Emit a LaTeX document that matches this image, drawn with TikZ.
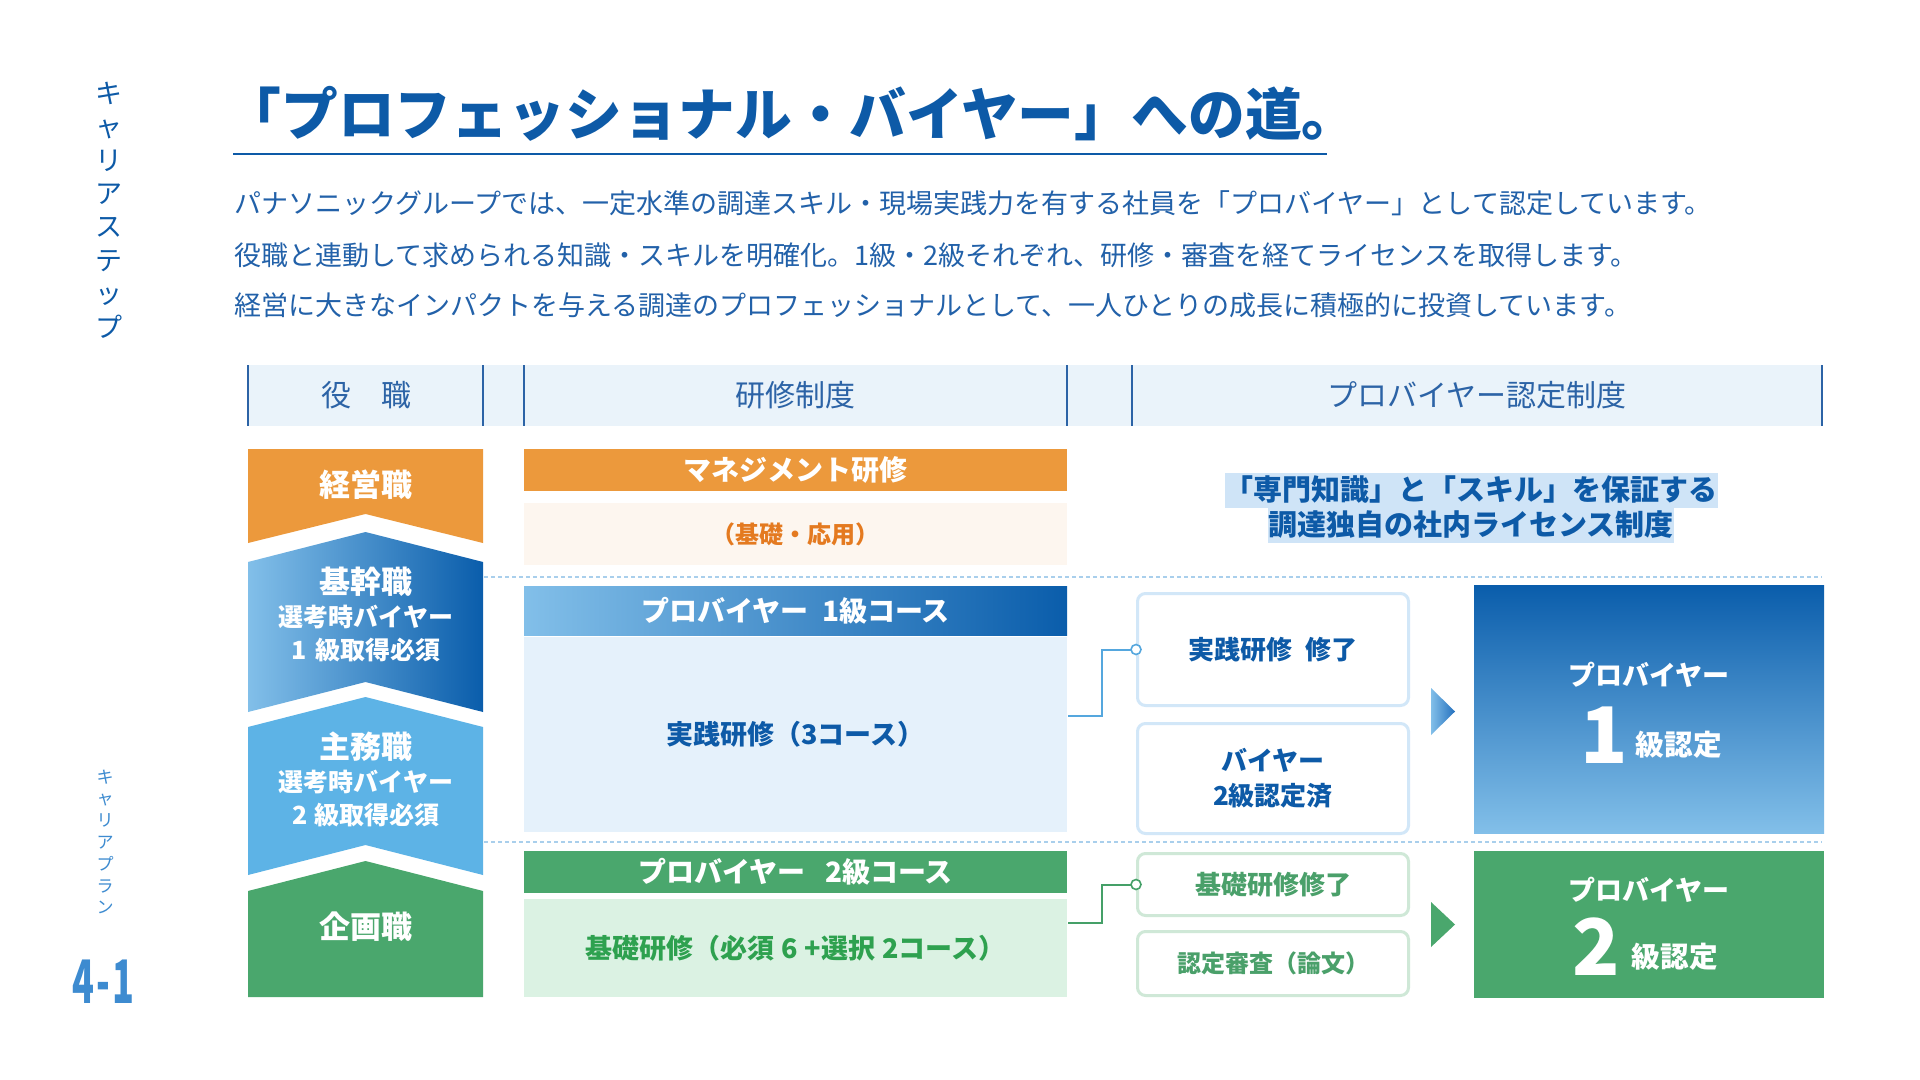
\documentclass[tikz,border=0pt]{standalone}
\usepackage{fontspec}
\setmainfont{Noto Sans CJK JP}
\usetikzlibrary{calc}
\definecolor{navy}{HTML}{0D5AA7}
\definecolor{bodyblue}{HTML}{2261A9}
\definecolor{hdrfill}{HTML}{EAF3FA}
\definecolor{hdrline}{HTML}{2C63A6}
\definecolor{orng}{HTML}{EC993C}
\definecolor{orngtxt}{HTML}{E47A20}
\definecolor{peach}{HTML}{FDF6EF}
\definecolor{dkblue}{HTML}{0A5DAB}
\definecolor{ltblue}{HTML}{82BFE9}
\definecolor{arrowdk}{HTML}{2470BE}
\definecolor{skyblue}{HTML}{5DB3E6}
\definecolor{pale}{HTML}{E5F1FB}
\definecolor{grn}{HTML}{4AA76D}
\definecolor{palegrn}{HTML}{DBF2E3}
\definecolor{grntxt}{HTML}{2EA14F}
\definecolor{boxgrntxt}{HTML}{4AA06A}
\definecolor{boxblue}{HTML}{D2E7F8}
\definecolor{boxgrn}{HTML}{CFE8D7}
\definecolor{hilite}{HTML}{CFE4F7}
\definecolor{dots}{HTML}{A9CFEC}
\definecolor{linkblue}{HTML}{55A7DE}
\definecolor{linkgrn}{HTML}{45A068}
\definecolor{sidetxt}{HTML}{3D8BD0}

\begin{document}
\begin{tikzpicture}[x=0.5pt,y=-0.5pt,
head/.style={text=hdrline, font=\fontsize{15}{18}\selectfont},
role/.style={text=white, align=center, font=\bfseries\fontsize{12.5}{16.5}\selectfont},
bar/.style={minimum width=271.5pt, inner sep=0pt, text=white, font=\bfseries\fontsize{14}{16}\selectfont},
pane/.style={minimum width=271.5pt, inner sep=0pt, font=\bfseries\fontsize{13.5}{16}\selectfont},
check/.style={draw, rounded corners=4pt, line width=1.5pt, fill=white, minimum width=135.5pt, inner sep=0pt, align=center, font=\bfseries\fontsize{13}{17.5}\selectfont},
cert/.style={minimum width=175pt, inner sep=0pt},
certtext/.style={text=white, font=\bfseries\fontsize{13.5}{16}\selectfont},
note/.style={fill=hilite, inner xsep=0pt, inner ysep=0pt, text=navy, font=\bfseries\fontsize{14.5}{17}\selectfont},
divider/.style={dots, line width=0.75pt, dash pattern=on 2pt off 1.5pt},
link/.style={line width=1pt},
dot/.style={circle, draw, fill=white, inner sep=0pt, minimum size=5pt, line width=0.8pt},
]
\useasboundingbox (0,0) rectangle (1920,1080);
\fill[white] (0,0) rectangle (1920,1080);

\node[text=navy, align=center, font=\fontsize{13.5}{16.7}\selectfont] (side1) at (109,210) {キ\\ャ\\リ\\ア\\ス\\テ\\ッ\\プ};
\node[text=sidetxt, align=center, font=\fontsize{8.5}{10.9}\selectfont] (side2) at (105,842) {キ\\ャ\\リ\\ア\\プ\\ラ\\ン};
\node[text=sidetxt, font=\bfseries\fontsize{30}{30}\selectfont] (num) at (103,982) {\scalebox{0.6}[1]{4\hspace{0.06em}-\hspace{0.06em}1}};

\node[anchor=west, inner sep=0pt, text=navy, font=\bfseries\fontsize{28.4}{32}\selectfont] (title) at (224,114) {「プロフェッショナル・バイヤー」への道。};
\draw[navy, line width=1pt] (233,154) -- (1327,154);

\node[anchor=west, inner sep=0pt, text=bodyblue, font=\fontsize{13.5}{16}\selectfont] (t1) at (234,203) {パナソニックグループでは、一定水準の調達スキル・現場実践力を有する社員を「プロバイヤー」として認定しています。};
\node[anchor=west, inner sep=0pt, text=bodyblue, font=\fontsize{13.5}{16}\selectfont] (t2) at (234,255) {役職と連動して求められる知識・スキルを明確化。1級・2級それぞれ、研修・審査を経てライセンスを取得します。};
\node[anchor=west, inner sep=0pt, text=bodyblue, font=\fontsize{13.5}{16}\selectfont] (t3) at (234,305) {経営に大きなインパクトを与える調達のプロフェッショナルとして、一人ひとりの成長に積極的に投資しています。};

\fill[hdrfill] (248,365) rectangle (1822,426);
\foreach \x in {248,483,524,1067,1132,1822}
  \draw[hdrline, line width=0.75pt] (\x,365) -- (\x,426);
\node[head] (h1) at (366,395) {役\hspace{1em}職};
\node[head] (h2) at (795.5,395) {研修制度};
\node[head] (h3) at (1477,395) {プロバイヤー認定制度};

\fill[orng] (248,449) -- (483,449) -- (483,543) -- (365.5,514) -- (248,543) -- cycle;
\shade[left color=ltblue, right color=dkblue] (248,562) -- (365.5,532) -- (483,562) -- (483,712) -- (365.5,682) -- (248,712) -- cycle;
\fill[skyblue] (248,727) -- (365.5,697) -- (483,727) -- (483,875) -- (365.5,845) -- (248,875) -- cycle;
\fill[grn] (248,891) -- (365.5,861) -- (483,891) -- (483,997) -- (248,997) -- cycle;
\node[role, font=\bfseries\fontsize{15.5}{18}\selectfont] (r1) at (366,485) {経営職};
\node[role] (r2) at (366,614) {{\fontsize{15.5}{16.5}\selectfont 基幹職}\\選考時バイヤー\\1\hspace{0.35em}級取得必須\hspace{2.1em}};
\node[role] (r3) at (366,779) {{\fontsize{15.5}{16.5}\selectfont 主務職}\\選考時バイヤー\\2\hspace{0.3em}級取得必須};
\node[role, font=\bfseries\fontsize{15.5}{18}\selectfont] (r4) at (366,927) {企画職};

\draw[divider] (484,577) -- (1822,577);
\draw[divider] (484,842) -- (1822,842);

\node[bar, fill=orng, minimum height=21pt] (m1) at (795.5,470) {マネジメント研修};
\node[pane, fill=peach, text=orngtxt, minimum height=31pt, font=\bfseries\fontsize{12}{14}\selectfont] (m2) at (795.5,534) {（基礎・応用）};
\node[bar, left color=ltblue, right color=dkblue, minimum height=24.5pt] (p1) at (795.5,610.5) {プロバイヤー\hspace{0.5em}1級コース};
\node[pane, fill=pale, text=navy, minimum height=97.5pt] (p2) at (795.5,734.5) {実践研修（3コース）};
\node[bar, fill=grn, minimum height=21pt] (g1) at (795.5,872) {プロバイヤー\hspace{0.7em}2級コース};
\node[pane, fill=palegrn, text=grntxt, minimum height=49pt] (g2) at (795.5,948) {基礎研修（必須\hspace{0.25em}6\hspace{0.25em}+選択\hspace{0.25em}2コース）};

\node[note, minimum height=17.5pt] (n1) at (1471,490) {「専門知識」と「スキル」を保証する};
\node[note, minimum height=18pt] (n2) at (1471,525) {調達独自の社内ライセンス制度};

\node[check, draw=boxblue, text=navy, minimum height=56pt] (b1) at (1273,649.5) {実践研修\hspace{0.5em}修了};
\node[check, draw=boxblue, text=navy, minimum height=55pt] (b2) at (1273,778.5) {バイヤー\\2級認定済};
\node[check, draw=boxgrn, text=boxgrntxt, minimum height=31pt] (b3) at (1273,884.5) {基礎研修修了};
\node[check, draw=boxgrn, text=boxgrntxt, minimum height=32pt, font=\bfseries\fontsize{12}{14}\selectfont] (b4) at (1273,963.5) {認定審査（論文）};

\coordinate (o1) at (1068,716);
\coordinate (o2) at (1068,923);
\draw[link, linkblue] (o1) -- ++(34,0) |- (b1.west);
\draw[link, linkgrn] (o2) -- ++(34,0) |- (b3.west);
\node[dot, draw=linkblue] (d1) at (b1.west) {};
\node[dot, draw=linkgrn] (d2) at (b3.west) {};

\shade[left color=ltblue, right color=arrowdk] (1431,688) -- (1455,711.5) -- (1431,735) -- cycle;
\fill[grn] (1431,902) -- (1455,924.5) -- (1431,947) -- cycle;

\node[cert, top color=dkblue, bottom color=ltblue, minimum height=124pt] (c1) at (1649,709) {};
\node[cert, fill=grn, minimum height=73.5pt] (c2) at (1649,924.5) {};
\node[certtext] (c1a) at (1649,675) {プロバイヤー};
\node[certtext, anchor=base, font=\bfseries\fontsize{14.3}{16}\selectfont] (c1b) at (1651,763) {{\fontsize{39}{39}\selectfont 1}\hspace{4pt}\raisebox{4pt}{級認定}};
\node[certtext] (c2a) at (1649,890) {プロバイヤー};
\node[certtext, anchor=base, font=\bfseries\fontsize{14.3}{16}\selectfont] (c2b) at (1645,975) {{\fontsize{39}{39}\selectfont 2}\hspace{6pt}\raisebox{4pt}{級認定}};
\end{tikzpicture}
\end{document}
